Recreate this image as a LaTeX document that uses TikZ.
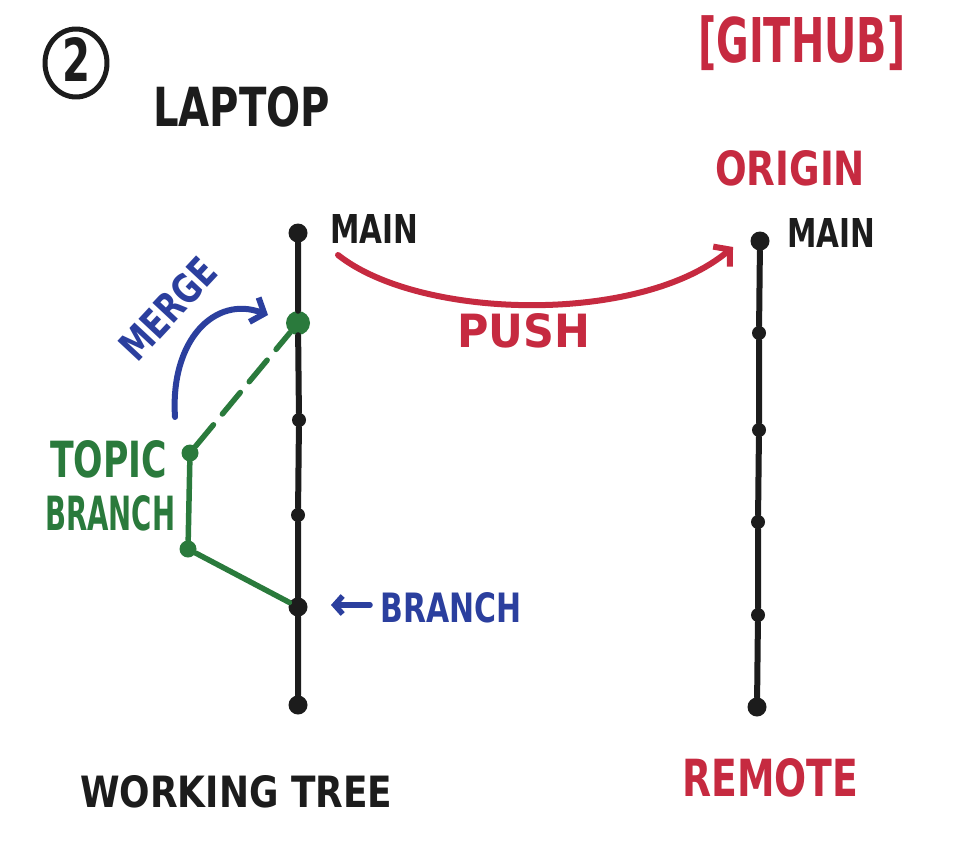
\documentclass[tikz,border=0pt]{standalone}
\usepackage{fontspec}
\setmainfont{DejaVu Sans}
\usepackage{graphicx}
\usetikzlibrary{arrows.meta,shapes.geometric}
\definecolor{ink}{HTML}{1C1C1C}
\definecolor{pred}{HTML}{C62A40}
\definecolor{pblue}{HTML}{2B3F9E}
\definecolor{pgreen}{HTML}{2A7A3C}
\newcommand\hwtxt[3]{\resizebox{#1pt}{#2pt}{\bfseries #3}}
\begin{document}
\begin{tikzpicture}[x=1pt,y=-1pt,line cap=round,line join=round,
  bdot/.style={circle,fill=ink,inner sep=0pt,minimum size=19pt},
  mdot/.style={circle,fill=ink,inner sep=0pt,minimum size=14pt},
  gdot/.style={circle,fill=pgreen,inner sep=0pt,minimum size=17pt},
  mergedot/.style={circle,fill=pgreen,inner sep=0pt,minimum size=24pt},
  trunk/.style={draw=ink,line width=6pt},
  gline/.style={draw=pgreen,line width=5.5pt},
  lbl/.style={inner sep=0pt,anchor=north west},
  barb/.style={-{Straight Barb[length=11pt,width=26pt]}}]
\fill[white] (0,0) rectangle (960,845);
\useasboundingbox (0,0) rectangle (960,845);

% circled number
\node[draw=ink,line width=5pt,ellipse,minimum width=62pt,minimum height=68pt,inner sep=0pt] (num) at (76,63) {};
\node[inner sep=0pt,text=ink] (numtxt) at (77,60) {\hwtxt{28}{44}{2}};

% titles
\node[lbl,text=ink] (laptop) at (153,86) {\hwtxt{177}{40}{LAPTOP}};
\node[lbl,text=pred] (github) at (698,15) {\resizebox*{207pt}{55pt}{\bfseries[GITHUB]}};
\node[lbl,text=pred] (origin) at (715,150) {\hwtxt{150}{35}{ORIGIN}};

% left trunk
\node[bdot] (L1) at (298,233) {};
\node[mergedot] (L2) at (298,323) {};
\node[mdot] (L3) at (299,420) {};
\node[mdot] (L4) at (298,515) {};
\node[bdot] (L5) at (298,607) {};
\node[bdot] (L6) at (298,705) {};
\draw[trunk] (L1) -- (L2) -- (L3) -- (L4) -- (L5) -- (L6);

% right trunk
\node[bdot] (R1) at (760,241) {};
\node[mdot] (R2) at (759,333) {};
\node[mdot] (R3) at (759,430) {};
\node[mdot] (R4) at (758,522) {};
\node[mdot] (R5) at (758,615) {};
\node[bdot] (R6) at (757,707) {};
\draw[trunk] (R1) -- (R2) -- (R3) -- (R4) -- (R5) -- (R6);

% labels at trunks
\node[lbl,text=ink] (mainL) at (330,214) {\hwtxt{88}{29}{MAIN}};
\node[lbl,text=ink] (mainR) at (787,218) {\hwtxt{88}{29}{MAIN}};

% topic branch
\node[gdot] (T1) at (190,453) {};
\node[gdot] (T2) at (188,549) {};
\draw[gline] (T1) -- (T2);
\draw[gline] (T2) -- (L5);
\draw[gline,dash pattern=on 28pt off 14pt] (T1) -- (L2);
\node[lbl,text=pgreen] (topic) at (50,440) {\hwtxt{117}{37}{TOPIC}};
\node[lbl,text=pgreen] (gbranch) at (45,495) {\hwtxt{130}{35}{BRANCH}};

% merge arrow
\coordinate (ms) at (175,417);
\coordinate (me) at (268,315);
\draw[pblue,line width=6pt,barb] (ms) .. controls (170,340) and (215,295) .. (me);
\node[inner sep=0pt,text=pblue,rotate=47] (merge) at (168,309) {\hwtxt{122}{30}{MERGE}};

% push arrow
\coordinate (ps) at (338,255);
\coordinate (pe) at (733,247);
\draw[pred,line width=6pt,barb] (ps) .. controls (420,320) and (640,325) .. (pe);
\node[lbl,text=pred] (push) at (457,313) {\hwtxt{133}{34}{PUSH}};

% branch pointer
\node[lbl,text=pblue] (bbranch) at (380,592) {\hwtxt{141}{30}{BRANCH}};
\coordinate (bs) at (370,605);
\coordinate (bt) at (331,605);
\draw[pblue,line width=5.5pt,-{Straight Barb[length=8pt,width=18pt]}] (bs) -- (bt);

% bottom labels
\node[lbl,text=ink] (wtree) at (80,775) {\hwtxt{312}{32}{WORKING TREE}};
\node[lbl,text=pred] (remote) at (682,758) {\hwtxt{176}{38}{REMOTE}};
\end{tikzpicture}
\end{document}
